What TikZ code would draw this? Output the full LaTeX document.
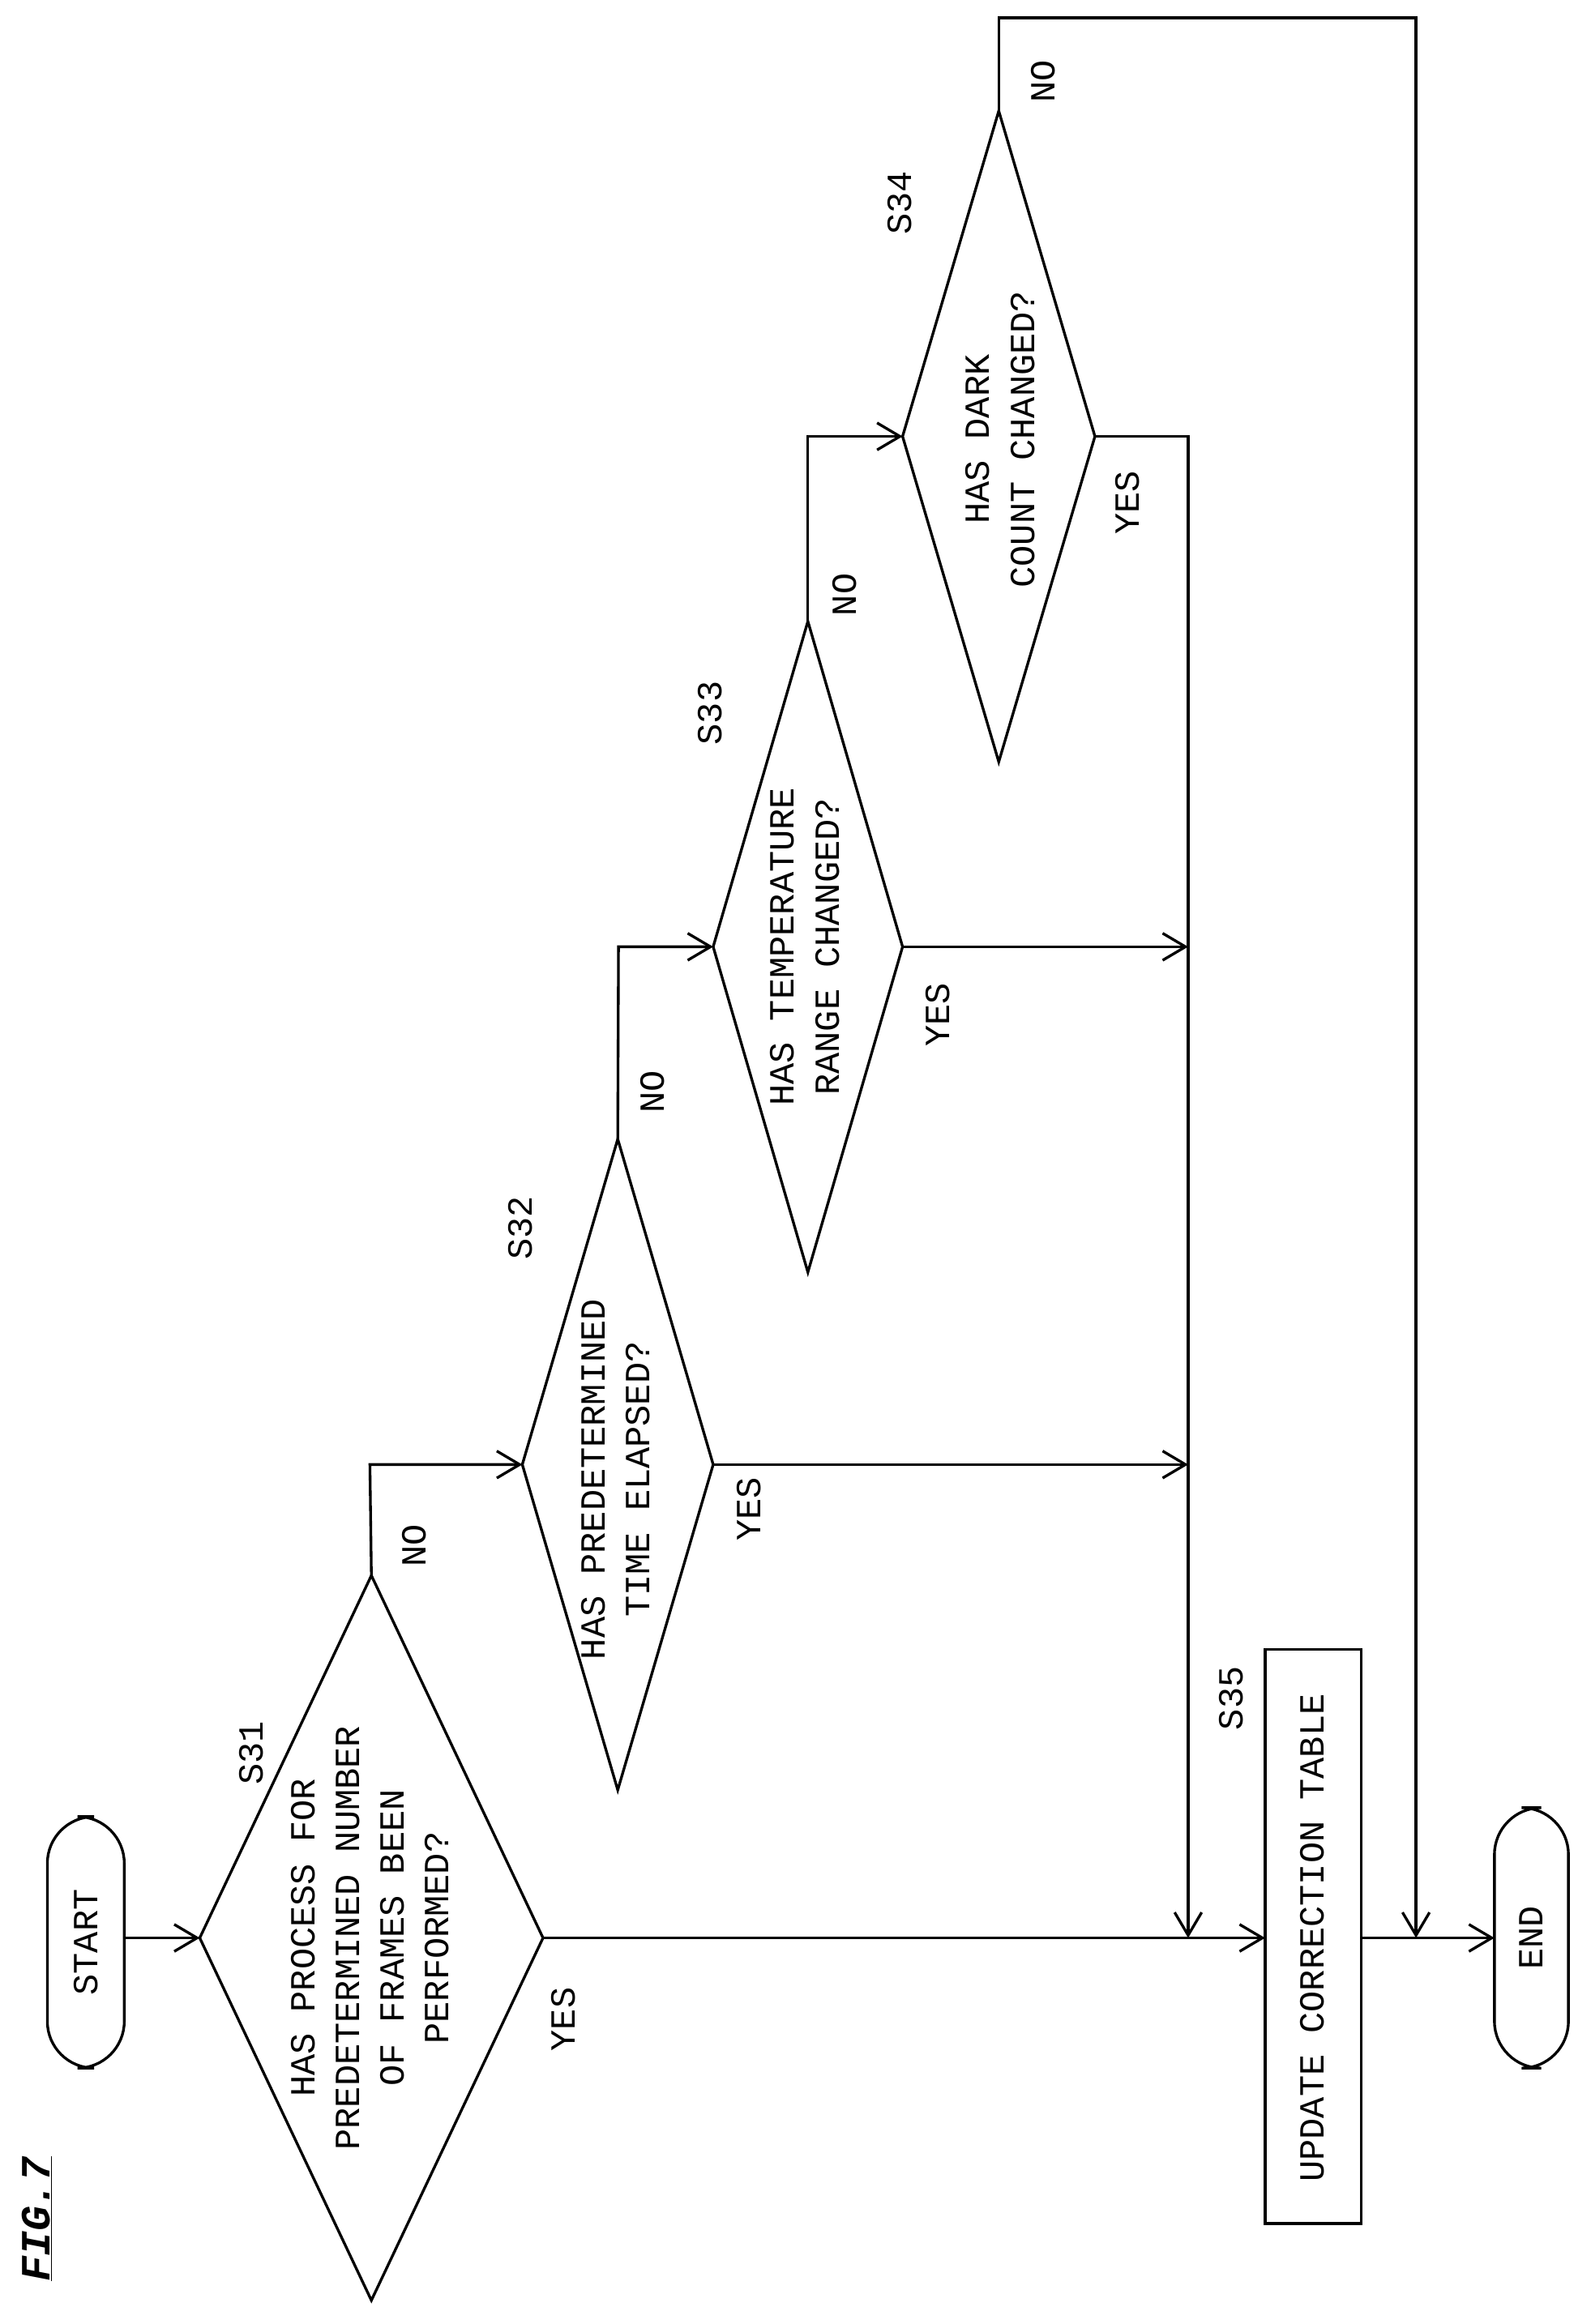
\documentclass[tikz,border=0pt]{standalone}
\usepackage{fontspec}
\setmonofont{Liberation Mono}
\usetikzlibrary{arrows.meta}
\begin{document}
\begin{tikzpicture}[x=0.05cm,y=-0.05cm,
  ln/.style={line width=2.6pt},
  arr/.style={ln,-{Straight Barb[length=22pt,width=26pt,line width=2.6pt]}},
  txt/.style={font=\ttfamily\fontsize{34}{43}\selectfont,rotate=90,align=center,inner sep=0},
  term/.style={draw,ln,rounded corners=42pt,minimum width=52\pgflinewidth,rotate=90}]
\useasboundingbox (0,0) rectangle (1075,1571);
% terminals
\draw[ln,rounded corners=45pt] (32,1228) rectangle (84,1398);
\node[txt] (start) at (58,1313) {START};
\draw[ln,rounded corners=45pt] (1010,1222) rectangle (1060,1398);
\node[txt] (end) at (1035,1310) {END};
\draw[ln] (855,1115) rectangle (920,1503);
\node[txt] (s35) at (887,1310) {UPDATE CORRECTION TABLE};
% diamond vertices
\foreach \n/\l/\r/\t/\b/\cy in {a/135/367/1065/1555/1310, b/353/482/770/1210/990, c/482/610/420/860/640, d/610/740/75/515/295}{
  \coordinate (\n L) at (\l,\cy); \coordinate (\n R) at (\r,\cy);
  \coordinate (\n T) at ({(\l+\r)/2},\t); \coordinate (\n B) at ({(\l+\r)/2},\b);
  \draw[ln] (\n L) -- (\n T) -- (\n R) -- (\n B) -- cycle;}
\node[txt] (ta) at (250,1310) {HAS PROCESS FOR\\PREDETERMINED NUMBER\\OF FRAMES BEEN\\PERFORMED?};
\node[txt] (tb) at (416,1000) {HAS PREDETERMINED\\TIME ELAPSED?};
\node[txt] (tc) at (544,640) {HAS TEMPERATURE\\RANGE CHANGED?};
\node[txt] (td) at (676,297) {HAS DARK\\COUNT CHANGED?};
% labels
\node[txt] (l1) at (170,1185) {S31};
\node[txt] (l2) at (352,830) {S32};
\node[txt] (l3) at (480,482) {S33};
\node[txt] (l4) at (608,137) {S34};
\node[txt] (l5) at (832,1148) {S35};
\node[txt] (y1) at (381,1365) {YES};
\node[txt] (y2) at (506,1020) {YES};
\node[txt] (y3) at (634,686) {YES};
\node[txt] (y4) at (762,340) {YES};
\node[txt] (n1) at (280,1045) {NO};
\node[txt] (n2) at (441,738) {NO};
\node[txt] (n3) at (571,402) {NO};
\node[txt] (n4) at (705,55) {NO};
\node[txt,font=\ttfamily\bfseries\itshape\fontsize{40}{48}\selectfont] (fig) at (25,1500) {\underline{FIG.7}};
% connectors
\coordinate (startR) at (84,1310);
\coordinate (s35L) at (855,1310);
\coordinate (s35R) at (920,1310);
\coordinate (endL) at (1010,1310);
\coordinate (j) at (803,1310);
\draw[arr] (startR) -- (aL);
\draw[arr] (aR) -- (s35L);
\draw[arr] (dR) -- (803,295) -- (j);
\draw[arr] (bR) -- (803,990);
\draw[arr] (cR) -- (803,640);
\draw[arr] (aT) -- (250,990) -- (bL);
\draw[arr] (bT) -- (418,640) -- (cL);
\draw[arr] (cT) -- (546,295) -- (dL);
\draw[arr] (dT) -- (675,12) -- (957,12) -- (957,1310);
\draw[arr] (s35R) -- (endL);
\end{tikzpicture}
\end{document}
